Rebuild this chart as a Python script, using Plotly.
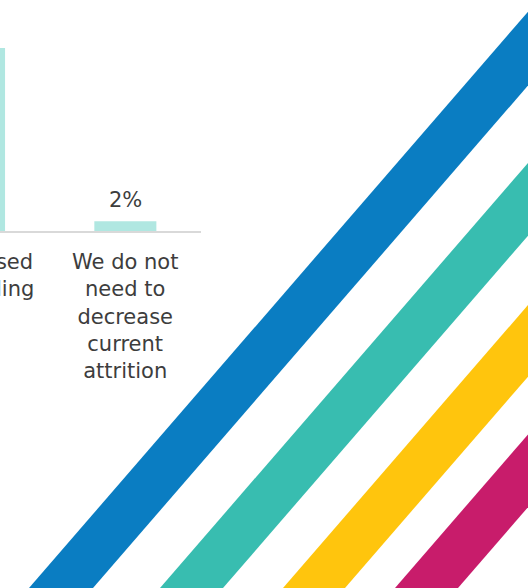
import plotly.graph_objects as go

# ---- data ----
categories = ["Supervised<br>onboarding",
              "We do not<br>need to<br>decrease<br>current<br>attrition"]
values = [38, 2]
value_labels = ["38%", "2%"]

# ---- styles / layout ----
W, H = 528, 588
bar_color = "#b0e7e1"
text_color = "#3d3d3d"
font_family = "DejaVu Sans"
x_range = [0.1716, 1.5]
x_domain = [0, 201 / W]
y_domain = [1 - 231 / H, 1]
y_range = [0, 48]

x_idx = list(range(len(categories)))

fig = go.Figure(go.Bar(
    x=x_idx, y=values, width=0.41,
    marker=dict(color=bar_color, line=dict(width=0)),
    hoverinfo="skip",
))


def to_paper_x(i):
    return x_domain[0] + (i - x_range[0]) / (x_range[1] - x_range[0]) * (x_domain[1] - x_domain[0])


annotations = []
for i, (v, lab) in enumerate(zip(values, value_labels)):
    annotations.append(dict(
        x=i, y=v, xref="x", yref="y", text=lab, showarrow=False,
        yanchor="middle", yshift=21,
        font=dict(family=font_family, size=21, color=text_color),
    ))
for i, cat in enumerate(categories):
    annotations.append(dict(
        x=to_paper_x(i), y=y_domain[0], xref="paper", yref="paper",
        text=cat, showarrow=False, xanchor="center", yanchor="top",
        align="center", yshift=-17,
        font=dict(family=font_family, size=21, color=text_color),
    ))

# ---- decorative diagonal stripes (pixel geometry -> paper) ----
slope = 1.155
stripes = [(29, 93, "#0a7dc2"), (160, 223, "#38bdb0"),
           (283, 345, "#ffc50d"), (395, 458, "#c81c6b")]
shapes = []


def P(px, py):
    return f"{px / W:.5f},{1 - py / H:.5f}"


for xl, xr, col in stripes:
    yb, yt = H + 10, -10
    dxb = (yb - H) / slope
    dxt = (H - yt) / slope
    path = (f"M{P(xl - dxb, yb)} L{P(xr - dxb, yb)} "
            f"L{P(xr + dxt, yt)} L{P(xl + dxt, yt)} Z")
    shapes.append(dict(type="path", path=path, xref="paper", yref="paper",
                       fillcolor=col, line=dict(width=0), layer="above"))

fig.update_layout(
    width=W, height=H,
    margin=dict(l=0, r=0, t=0, b=0),
    paper_bgcolor="white", plot_bgcolor="white",
    showlegend=False,
    xaxis=dict(domain=x_domain, range=x_range, showgrid=False, zeroline=False,
               showticklabels=False, ticks="", showline=True,
               linecolor="#d9d9d9", linewidth=2, fixedrange=True),
    yaxis=dict(domain=y_domain, range=y_range, visible=False, fixedrange=True),
    annotations=annotations,
    shapes=shapes,
)

fig.write_html(
    "out.html",
    config={"displayModeBar": False},
    post_script="document.body.style.margin='0';document.body.style.overflow='hidden';",
)
